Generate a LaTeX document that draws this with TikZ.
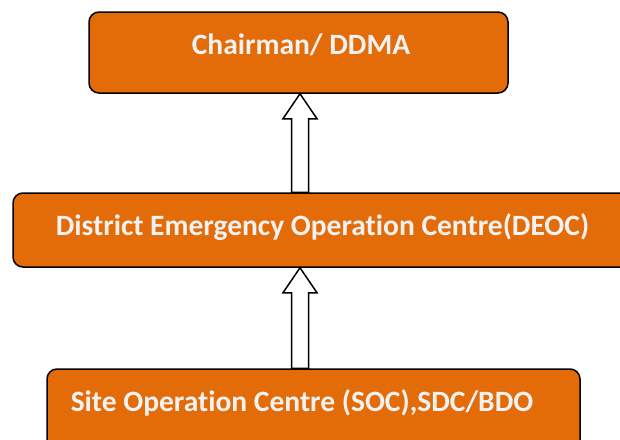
\documentclass[tikz,border=0pt]{standalone}
\usepackage{fontspec}
\setmainfont[RawFeature={-liga;-clig;-calt;-dlig}]{Carlito}
\usetikzlibrary{calc}
\definecolor{boxorange}{HTML}{E36C09}
\definecolor{boxtext}{HTML}{F2F2F2}
\tikzset{
  box/.style={draw=black, line width=1.5pt, fill=boxorange, rounded corners=10pt, inner sep=0pt},
  boxlabel/.style={text=boxtext, font=\fontsize{29.5}{34}\selectfont\bfseries, inner sep=0pt},
  hollow/.style={draw=black, fill=white, line width=1.5pt, line join=miter}
}
\begin{document}
\begin{tikzpicture}[x=1pt,y=-1pt]
\useasboundingbox (0,0) rectangle (620,439);
\clip (0,0) rectangle (620,439);
\node[box, minimum width=419pt, minimum height=81pt] (top) at (298.5,52.5) {};
\node[box, minimum width=618pt, minimum height=74pt] (mid) at (322,230) {};
\node[box, minimum width=533pt, minimum height=100pt] (bot) at (313.5,419) {};
\node[boxlabel, anchor=base] (toplabel) at (301,54) {Chairman/ DDMA};
\node[boxlabel, anchor=base] (midlabel) at (322.5,235) {District Emergency Operation Centre(DEOC)};
\node[boxlabel, anchor=base] (botlabel) at (302,411) {Site Operation Centre (SOC),SDC/BDO};
\draw[hollow] let \p1=(top.south), \p2=(mid.north) in
  (300pt,\y1) -- (317pt,\y1-25pt) -- (308.5pt,\y1-25pt) -- (308.5pt,\y2) --
  (291.5pt,\y2) -- (291.5pt,\y1-25pt) -- (283pt,\y1-25pt) -- cycle;
\draw[hollow] let \p1=(mid.south), \p2=(bot.north) in
  (300pt,\y1) -- (317pt,\y1-25pt) -- (308.5pt,\y1-25pt) -- (308.5pt,\y2) --
  (291.5pt,\y2) -- (291.5pt,\y1-25pt) -- (283pt,\y1-25pt) -- cycle;
\end{tikzpicture}
\end{document}
